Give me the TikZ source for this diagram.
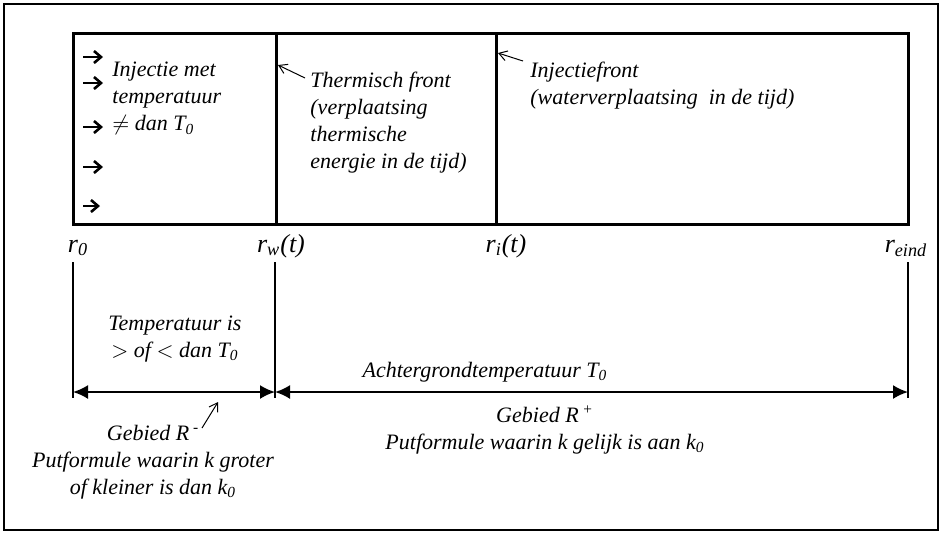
\documentclass[tikz,border=0pt]{standalone}
\usepackage{fontspec}
\setmainfont{Liberation Serif}
\usetikzlibrary{arrows.meta,positioning}

\newcommand{\sub}[1]{\textsubscript{#1}}

\begin{document}
\begin{tikzpicture}[x=0.5pt,y=-0.5pt,
  txt/.style={font=\itshape\fontsize{11}{13.5}\selectfont, inner sep=0pt, align=left},
  ctrtxt/.style={txt, align=center},
  rlabel/.style={font=\itshape\fontsize{13}{14}\selectfont, inner sep=0pt, anchor=base},
  wall/.style={line width=1.5pt},
  ext/.style={line width=0.8pt},
  dim/.style={{Latex[length=7.5pt,width=7pt]}-{Latex[length=7.5pt,width=7pt]}, line width=1pt},
  ptr/.style={-{Straight Barb[length=4pt,width=5pt]}, line width=0.5pt},
  inj/.style={-{Straight Barb[length=3.5pt,width=6pt]}, line width=1.3pt},
]

\useasboundingbox (0,0) rectangle (940,532);
\draw[line width=0.7pt] (4,4) rectangle (938,530);

% reservoir strip
\coordinate (tl) at (73,33);
\coordinate (br) at (908,224);
\draw[wall] (tl) rectangle (br);
\draw[wall] (276,33) coordinate (wtop) -- (276,224) coordinate (wbot);
\draw[wall] (496,33) coordinate (itop) -- (496,224) coordinate (ibot);

% injection arrows
\foreach \y/\l in {57/20, 83/20, 127/20, 167/20, 206/17}
  \draw[inj] (83,\y) -- ++(\l,0);

\node[txt, anchor=north west] (inj) at (112,62)
  {Injectie met\\temperatuur\\$\neq$ dan T\sub{0}};
\node[txt, anchor=north west] (thf) at (310,72)
  {Thermisch front\\(verplaatsing\\thermische\\energie in de tijd)};
\node[txt, anchor=north west] (inf) at (530,62)
  {Injectiefront\\(waterverplaatsing\ \ in de tijd)};
\draw[ptr] (305,78) -- (278,65);
\draw[ptr] (523,61) -- (498,53);

% radii
\node[rlabel] (r0) at (78,252) {r\sub{0}};
\node[rlabel] (rw) at (281,252) {r\sub{w}(t)};
\node[rlabel] (ri) at (506,252) {r\sub{i}(t)};
\node[rlabel] (re) at (906,252) {r\sub{eind}};

\coordinate (d0) at (73,392);
\coordinate (dw) at (275,392);
\coordinate (de) at (908,392);
\draw[ext] (73,262) -- (73,398);
\draw[ext] (275,262) -- (275,398);
\draw[ext] (908,262) -- (908,398);
\draw[dim] (d0) -- (dw);
\draw[dim] (dw) -- (de);

\node[ctrtxt] (tmp) at (175,339) {Temperatuur is\\$>$ of $<$ dan T\sub{0}};
\node[txt] (ach) at (485,372) {Achtergrondtemperatuur T\sub{0}};
\node[ctrtxt] (gmin) at (153,462)
  {Gebied R\,\textsuperscript{-}\\Putformule waarin k groter\\of kleiner is dan k\sub{0}};
\node[ctrtxt] (gplus) at (545,430)
  {Gebied R\,\textsuperscript{+}\\Putformule waarin k gelijk is aan k\sub{0}};
\draw[ptr] (202,428) -- (218,402);

\end{tikzpicture}
\end{document}
